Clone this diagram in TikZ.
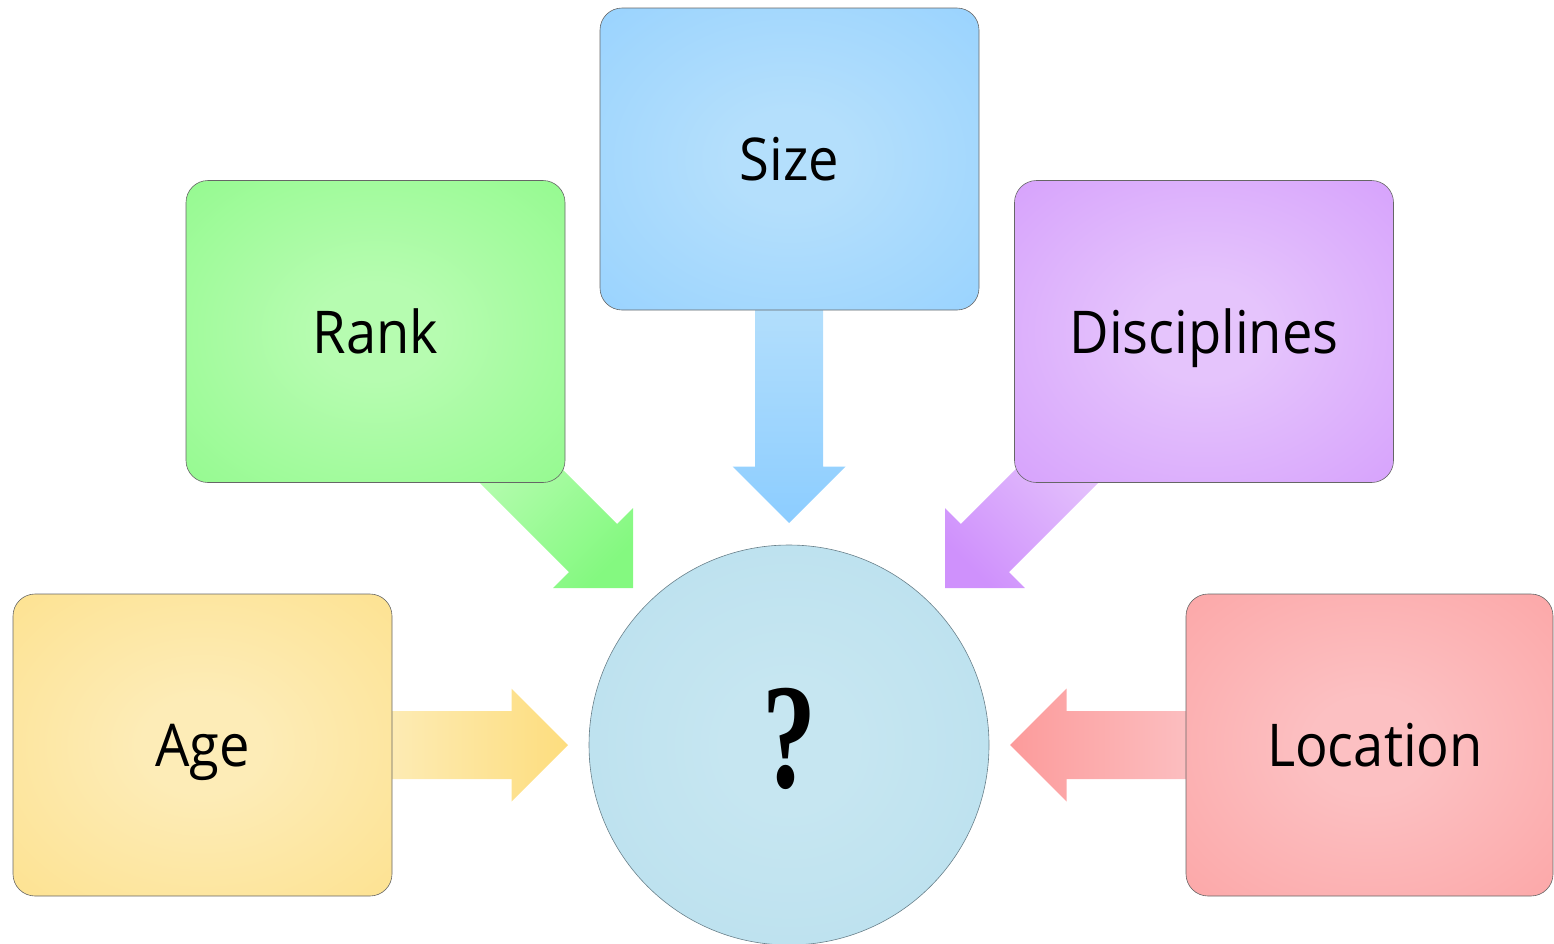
\documentclass[tikz,border=0pt]{standalone}
\usepackage{fontspec}
\setmainfont{Open Sans}[FakeStretch=0.92]
\newfontfamily\qfont{Liberation Serif}
\usetikzlibrary{calc,backgrounds}
\makeatletter
\pgfdeclareradialshading[tikz@radial@inner,tikz@radial@outer]{softradial}{\pgfpointorigin}{color(0bp)=(tikz@radial@inner); color(8bp)=(tikz@radial@inner); color(50bp)=(tikz@radial@outer); color(72bp)=(tikz@radial@outer)}
\makeatother
\definecolor{sizeIn}{RGB}{180,223,252}
\definecolor{sizeOut}{RGB}{140,205,255}
\definecolor{rankIn}{RGB}{182,252,176}
\definecolor{rankOut}{RGB}{132,249,128}
\definecolor{discIn}{RGB}{229,196,252}
\definecolor{discOut}{RGB}{207,145,252}
\definecolor{ageIn}{RGB}{253,236,183}
\definecolor{ageOut}{RGB}{253,221,126}
\definecolor{locIn}{RGB}{252,192,194}
\definecolor{locOut}{RGB}{252,155,155}
\definecolor{qIn}{RGB}{198,230,241}
\definecolor{qOut}{RGB}{178,220,236}
\definecolor{qLine}{RGB}{105,128,138}
\newcommand\blockarrow[3]{%
  \coordinate (ba-b) at ($(#2)!56.5pt!(#1)$);
  \shade[#3] ($(#1)!34pt!90:(#2)$) -- ($(ba-b)!34pt!90:(#2)$) -- ($(ba-b)!56.5pt!90:(#2)$) -- (#2)
    -- ($(ba-b)!56.5pt!-90:(#2)$) -- ($(ba-b)!34pt!-90:(#2)$) -- ($(#1)!34pt!-90:(#2)$) -- cycle;}
\tikzset{
  box/.style={draw=black!60, line width=0.6pt, rounded corners=22pt,
    minimum width=379pt, minimum height=302pt, inner sep=0pt,
    text height=43pt, text depth=0pt, text=black,
    font=\fontsize{59}{70}\selectfont},
}
\begin{document}
\begin{tikzpicture}[x=1pt,y=-1pt]
\useasboundingbox (0,0) rectangle (1554,943);
\clip (0,0) rectangle (1554,943);
% boxes
\node[box, inner color=sizeIn, outer color=sizeOut, shading=softradial] (size) at (789.5,159) {Size};
\node[box, inner color=rankIn, outer color=rankOut, shading=softradial] (rank) at (375.5,331.5) {Rank};
\node[box, inner color=discIn, outer color=discOut, shading=softradial] (disc) at (1204,331.5) {Disciplines};
\node[box, inner color=ageIn, outer color=ageOut, shading=softradial] (age) at (202.5,745) {Age};
\node[box, minimum width=367pt, inner color=locIn, outer color=locOut, shading=softradial] (loc) at (1369.5,745) {\hspace*{11pt}Location};
\node[circle, draw=qLine, line width=0.6pt, minimum size=400pt, inner sep=0pt,
  text height=84pt, text depth=0pt,
  inner color=qIn, outer color=qOut, shading=softradial,
  font=\qfont\bfseries\fontsize{150}{150}\selectfont] (q) at (789,745) {\scalebox{0.72}[1]{?}};
% connector end points
\coordinate (size-tail) at (789,300);  \coordinate (size-tip) at (789,523);
\coordinate (rank-tail) at (500,455);  \coordinate (rank-tip) at (633,588);
\coordinate (disc-tail) at (1078,455); \coordinate (disc-tip) at (945,588);
\coordinate (age-tail) at (380,745);   \coordinate (age-tip) at (568,745);
\coordinate (loc-tail) at (1198,745);  \coordinate (loc-tip) at (1010,745);
\begin{pgfonlayer}{background}
\blockarrow{size-tail}{size-tip}{top color=sizeIn, bottom color=sizeOut}
\blockarrow{rank-tail}{rank-tip}{top color=rankIn, bottom color=rankOut, shading angle=45}
\blockarrow{disc-tail}{disc-tip}{top color=discIn, bottom color=discOut, shading angle=-45}
\blockarrow{age-tail}{age-tip}{top color=ageIn, bottom color=ageOut, shading angle=90}
\blockarrow{loc-tail}{loc-tip}{top color=locIn, bottom color=locOut, shading angle=-90}
\end{pgfonlayer}
\end{tikzpicture}
\end{document}
